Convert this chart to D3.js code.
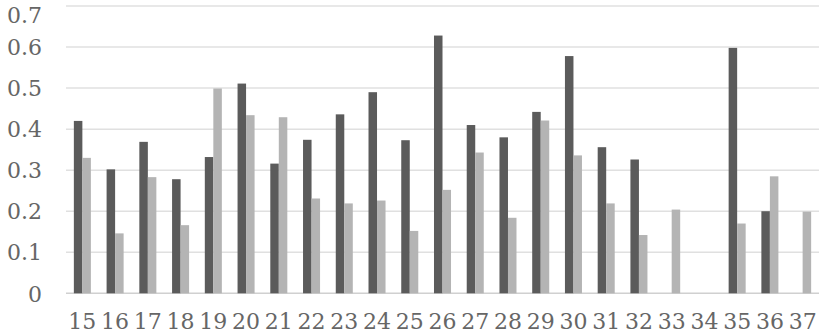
<!DOCTYPE html>
<html>
<head>
<meta charset="utf-8">
<script src="https://cdn.jsdelivr.net/npm/d3@7"></script>
<style>
  html, body { margin: 0; padding: 0; background: #ffffff; }
  svg { display: block; }
  text { font-family: "DejaVu Serif", "Liberation Serif", serif; }
</style>
</head>
<body>
<svg id="chart" width="830" height="335"></svg>
<script>
const categories = ["15","16","17","18","19","20","21","22","23","24","25","26","27","28","29","30","31","32","33","34","35","36","37"];
const seriesDark = [0.420,0.302,0.369,0.278,0.332,0.511,0.316,0.374,0.436,0.490,0.373,0.628,0.410,0.380,0.442,0.578,0.356,0.326,null,null,0.598,0.200,null];
const seriesLight = [0.330,0.146,0.283,0.166,0.499,0.434,0.429,0.231,0.219,0.226,0.152,0.252,0.343,0.184,0.421,0.336,0.219,0.142,0.204,null,0.170,0.285,0.199];
const yTicks = [0,0.1,0.2,0.3,0.4,0.5,0.6,0.7];
const seriesNames = ["dark","light"];
const seriesColors = ["#5b5b5b","#b4b4b4"];

const svg = d3.select("#chart");
const mLeft = 66, mRight = 819, mTop = 6, mBottom = 293.3;

const x = d3.scaleBand().domain(categories).range([mLeft, mRight]).paddingInner(0.48).paddingOuter(0.24);
const xs = d3.scaleBand().domain(seriesNames).range([0, x.bandwidth()]);
const y = d3.scaleLinear().domain([0, 0.7]).range([mBottom, mTop]);

// gridlines
svg.append("g").selectAll("line").data(yTicks).join("line")
  .attr("x1", mLeft).attr("x2", mRight)
  .attr("y1", d => y(d)).attr("y2", d => y(d))
  .attr("stroke", d => d === 0 ? "#d0d0d0" : "#e0e0e0")
  .attr("stroke-width", 1.5);

// y axis labels
const yAxis = d3.axisLeft(y).tickValues(yTicks).tickFormat(d => d === 0 ? "0" : d3.format(".1f")(d)).tickSize(0).tickPadding(0);
const yg = svg.append("g").attr("transform", "translate(42,0)").call(yAxis);
yg.select(".domain").remove();
yg.selectAll("text").attr("fill", "#666666").style("font-size", "22px").style("font-family", "'DejaVu Serif', serif")
  .attr("dy", d => d === 0.7 ? "0.75em" : "0.35em");

// bars
const data = categories.map((c, i) => ({ c, vals: [seriesDark[i], seriesLight[i]] }));
const groups = svg.append("g").selectAll("g").data(data).join("g")
  .attr("transform", d => `translate(${x(d.c)},0)`);
groups.selectAll("rect").data(d => d.vals.map((v, k) => ({ v, k })).filter(e => e.v != null)).join("rect")
  .attr("x", e => xs(seriesNames[e.k]))
  .attr("width", xs.bandwidth())
  .attr("y", e => y(e.v))
  .attr("height", e => y(0) - y(e.v))
  .attr("fill", e => seriesColors[e.k]);

// x axis labels
const xAxis = d3.axisBottom(x).tickSize(0).tickPadding(0);
const xg = svg.append("g").attr("transform", `translate(0,${mBottom})`).call(xAxis);
xg.select(".domain").remove();
xg.selectAll("text").attr("fill", "#666666").style("font-size", "22px").style("font-family", "'DejaVu Serif', serif").attr("y", 36).attr("dy", "0");
</script>
</body>
</html>
